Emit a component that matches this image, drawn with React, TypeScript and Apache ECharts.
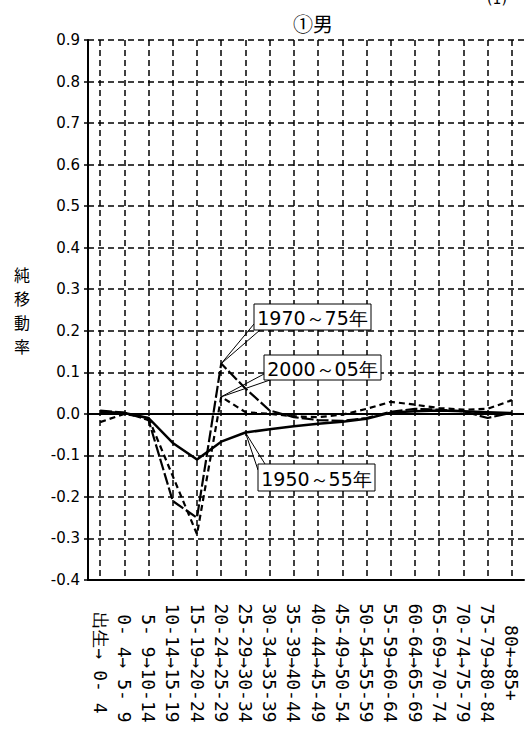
import React, { useEffect, useRef } from "react";
import * as echarts from "echarts";

const categories = [
  "出生→ 0- 4",
  " 0- 4→ 5- 9",
  " 5- 9→10-14",
  "10-14→15-19",
  "15-19→20-24",
  "20-24→25-29",
  "25-29→30-34",
  "30-34→35-39",
  "35-39→40-44",
  "40-44→45-49",
  "45-49→50-54",
  "50-54→55-59",
  "55-59→60-64",
  "60-64→65-69",
  "65-69→70-74",
  "70-74→75-79",
  "75-79→80-84",
  "80+→85+",
];

const s1950 = [0.005, 0.002, -0.01, -0.07, -0.11, -0.067, -0.045, -0.037, -0.03, -0.024, -0.019, -0.012, 0.003, 0.006, 0.008, 0.006, 0.004, 0.002];
const s1970 = [0.008, 0.003, -0.015, -0.21, -0.25, 0.121, 0.061, 0.008, -0.008, -0.015, -0.017, -0.01, 0.005, 0.012, 0.01, 0.006, -0.01, 0.003];
const s2000 = [-0.02, 0.0, -0.01, -0.15, -0.29, 0.041, 0.004, 0.0, -0.006, -0.008, -0.002, 0.012, 0.029, 0.022, 0.014, 0.01, 0.012, 0.033];

const seriesNames = ["1950～55年", "1970～75年", "2000～05年"];
const yAxisNameChars = ["純", "移", "動", "率"];

const FONT = "'DejaVu Sans', sans-serif";

export default function App() {
  const ref = useRef<HTMLDivElement>(null);
  useEffect(() => {
    if (!ref.current) return;
    const chart = echarts.init(ref.current, null, { renderer: "svg" });
    const option: any = {
      animation: false,
      backgroundColor: "#fff",
      grid: { left: 88, right: 4, top: 40, bottom: 153 },
      xAxis: {
        type: "category",
        data: categories,
        boundaryGap: true,
        axisLine: { onZero: false, lineStyle: { color: "#000", width: 2 } },
        axisTick: { show: false },
        axisLabel: {
          interval: 0,
          rotate: -90,
          align: "center",
          verticalAlign: "middle",
          margin: 83,
          color: "#000",
          fontFamily: "'DejaVu Sans Mono', monospace",
          fontSize: 18,
        },
        splitLine: {
          show: true,
          interval: 0,
          alignWithLabel: true,
          lineStyle: { color: "#000", type: [6, 4], width: 1.5 },
        },
      },
      yAxis: {
        type: "value",
        min: -0.4,
        max: 0.9,
        interval: 0.1,
        axisLine: { show: true, lineStyle: { color: "#000", width: 2 } },
        axisTick: { show: true, length: 4, lineStyle: { color: "#000", width: 1.5 } },
        axisLabel: {
          color: "#000",
          fontFamily: FONT,
          fontSize: 15,
          margin: 8,
          formatter: (v: number) => v.toFixed(1),
        },
        splitLine: { show: true, lineStyle: { color: "#000", type: [6, 4], width: 1.5 } },
      },
      series: [
        {
          name: seriesNames[0],
          type: "line",
          data: s1950,
          symbol: "none",
          lineStyle: { color: "#000", width: 2.5, type: "solid" },
          z: 5,
          markLine: {
            silent: true,
            symbol: ["none", "none"],
            label: { show: false },
            lineStyle: { color: "#000", type: "solid", width: 2.2 },
            data: [{ yAxis: 0 }],
          },
        },
        {
          name: seriesNames[1],
          type: "line",
          data: s1970,
          symbol: "none",
          lineStyle: { color: "#000", width: 2.2, type: [12, 3] },
          z: 4,
        },
        {
          name: seriesNames[2],
          type: "line",
          data: s2000,
          symbol: "none",
          lineStyle: { color: "#000", width: 2.2, type: [6, 4] },
          z: 3,
        },
      ],
    };
    chart.setOption(option);

    const px = (i: number, v: number) =>
      chart.convertToPixel({ xAxisIndex: 0, yAxisIndex: 0 }, [i, v]) as number[];
    const p1970 = px(5, s1970[5]);
    const p2000 = px(5, s2000[5]);
    const p1950 = px(6, s1950[6]);

    const callout = (
      p: number[],
      box: { x: number; y: number; w: number; h: number },
      a: number[],
      b: number[],
      text: string
    ) => [
      { type: "line", shape: { x1: p[0], y1: p[1], x2: a[0], y2: a[1] }, style: { stroke: "#000", lineWidth: 1 }, z: 20 },
      { type: "line", shape: { x1: p[0], y1: p[1], x2: b[0], y2: b[1] }, style: { stroke: "#000", lineWidth: 1 }, z: 20 },
      {
        type: "rect",
        shape: { x: box.x, y: box.y, width: box.w, height: box.h },
        style: { fill: "#fff", stroke: "#000", lineWidth: 1 },
        z: 21,
      },
      {
        type: "text",
        x: box.x + box.w / 2,
        y: box.y + box.h / 2 + 1,
        style: {
          text,
          fill: "#000",
          font: `19px ${FONT}`,
          align: "center",
          verticalAlign: "middle",
        },
        z: 22,
      },
    ];

    chart.setOption({
      graphic: [
        {
          type: "text",
          x: 313,
          y: 23,
          style: {
            text: "①男",
            fill: "#000",
            font: "20px 'Noto Sans CJK JP', sans-serif",
            align: "center",
            verticalAlign: "middle",
          },
        },
        {
          type: "text",
          x: 497,
          y: -8,
          style: {
            text: "(1)",
            fill: "#000",
            font: `14px ${FONT}`,
            align: "center",
            verticalAlign: "top",
          },
        },
        ...yAxisNameChars.map((c, i) => ({
          type: "text",
          x: 22,
          y: 274 + i * 24,
          style: {
            text: c,
            fill: "#000",
            font: "16px 'Noto Sans CJK JP', sans-serif",
            align: "center",
            verticalAlign: "middle",
          },
        })),
        ...callout(p1970, { x: 254, y: 304, w: 117, h: 26 }, [254, 324], [260, 330], seriesNames[1]),
        ...callout(p2000, { x: 264, y: 355, w: 117, h: 25 }, [264, 374], [270, 380], seriesNames[2]),
        ...callout(p1950, { x: 258, y: 464, w: 117, h: 27 }, [258, 470], [265, 464], seriesNames[0]),
      ],
    });

    return () => chart.dispose();
  }, []);
  return (
    <div
      ref={ref}
      style={{ position: "fixed", left: 0, top: 0, width: 528, height: 733 }}
    />
  );
}
